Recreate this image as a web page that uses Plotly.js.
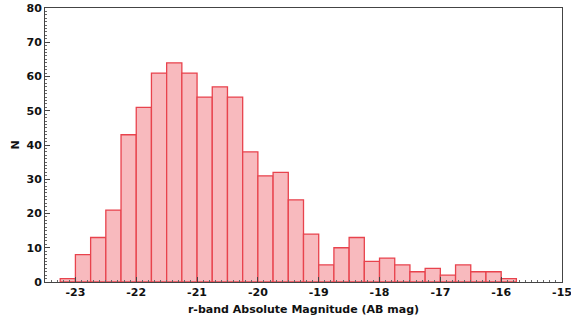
<!DOCTYPE html>
<html>
<head>
<meta charset="utf-8">
<script src="https://cdn.plot.ly/plotly-3.0.1.min.js"></script>
<style>html,body{margin:0;padding:0;background:#fff;}#chart{width:571px;height:322px;}</style>
</head>
<body>
<div id="chart"></div>
<script>
// Histogram of r-band absolute magnitudes, bin width 0.25 mag
const binStart = -23.25;
const binWidth = 0.25;
const counts = [1, 8, 13, 21, 43, 51, 61, 64, 61, 54, 57, 54, 38, 31, 32, 24, 14, 5, 10, 13, 6, 7, 5, 3, 4, 2, 5, 3, 3, 1];
const xTickVals = [-23, -22, -21, -20, -19, -18, -17, -16, -15];
const xTickText = ['-23', '-22', '-21', '-20', '-19', '-18', '-17', '-16', '-15'];
const yTickVals = [0, 10, 20, 30, 40, 50, 60, 70, 80];

const centers = counts.map((_, i) => binStart + binWidth * (i + 0.5));

const font = {family: 'DejaVu Sans, sans-serif', size: 11, color: '#111', weight: 'bold'};

const trace = {
  type: 'bar',
  x: centers,
  y: counts,
  width: binWidth,
  marker: {color: '#f8babe', line: {color: '#e8434d', width: 1.3}},
  hoverinfo: 'skip'
};

const layout = {
  width: 571, height: 322,
  margin: {l: 45, r: 9, t: 8, b: 40},
  paper_bgcolor: '#fff', plot_bgcolor: '#fff',
  showlegend: false,
  bargap: 0,
  font: font,
  xaxis: {
    range: [-23.5, -15],
    tickvals: xTickVals, ticktext: xTickText,
    ticklabeloverflow: 'allow',
    ticks: 'inside', ticklen: 5, tickwidth: 1, tickcolor: '#444',
    minor: {dtick: 0.1, ticks: 'inside', ticklen: 2, tickcolor: '#666', tickwidth: 1, showgrid: false},
    showline: true, linecolor: '#444', linewidth: 1, mirror: true,
    showgrid: false, zeroline: false,
    tickfont: font,
    title: {text: 'r-band Absolute Magnitude (AB mag)', font: font, standoff: 7}
  },
  yaxis: {
    range: [0, 80],
    tickvals: yTickVals,
    ticks: 'inside', ticklen: 5, tickwidth: 1, tickcolor: '#444',
    minor: {dtick: 1, ticks: 'inside', ticklen: 2, tickcolor: '#666', tickwidth: 1, showgrid: false},
    showline: true, linecolor: '#444', linewidth: 1, mirror: true,
    showgrid: false, zeroline: false,
    tickfont: font,
    title: {text: 'N', font: font, standoff: 4}
  }
};

Plotly.newPlot('chart', [trace], layout, {staticPlot: true, displayModeBar: false});
</script>
</body>
</html>
